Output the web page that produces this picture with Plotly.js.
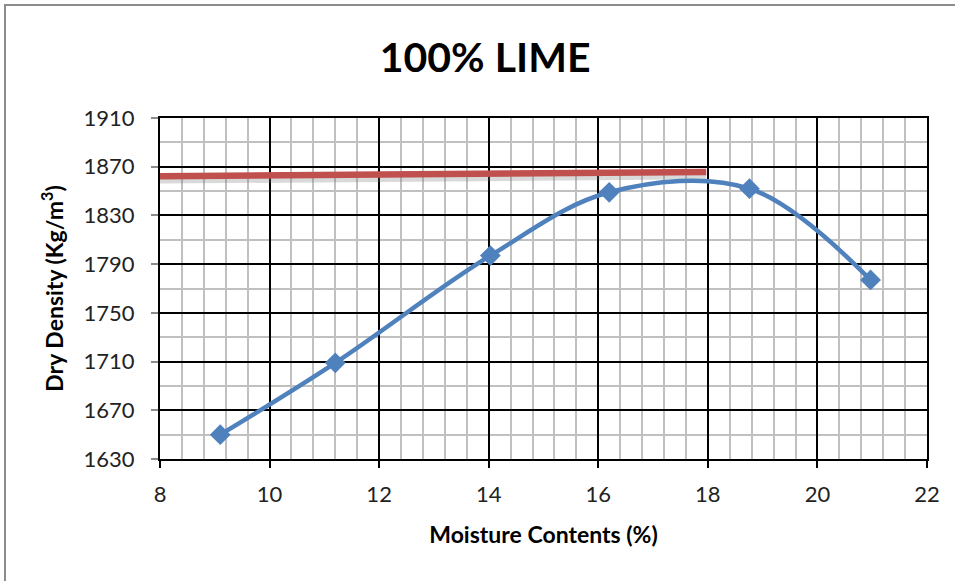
<!DOCTYPE html>
<html>
<head>
<meta charset="utf-8">
<script src="https://cdn.plot.ly/plotly-3.0.1.min.js"></script>
<style>
html,body{margin:0;padding:0;background:#fff;}
#wrap{position:relative;width:955px;height:581px;overflow:hidden;}
#frame{position:absolute;left:4px;top:4px;width:960px;height:600px;border:2px solid #8c8c8c;box-sizing:border-box;pointer-events:none;z-index:5;}
#chart{position:absolute;left:0;top:0;width:955px;height:581px;}
</style>
</head>
<body>
<div id="wrap"><div id="chart"></div><div id="frame"></div></div>
<script>
// Data
const moisture = [9.10, 11.20, 14.03, 16.20, 18.76, 20.97];
const dryDensity = [1650, 1709, 1797, 1849, 1852, 1777];
const mddLineX = [8, 17.97];
const mddLineY = [1862.2, 1865.7];
const xTicks = [8, 10, 12, 14, 16, 18, 20, 22];
const yTicks = [1630, 1670, 1710, 1750, 1790, 1830, 1870, 1910];

const FONT = 'Lato, "Open Sans", sans-serif';

const traces = [
  {
    x: mddLineX,
    y: mddLineY.map(v => v - 2.8),
    mode: 'lines',
    line: {color: 'rgba(120,120,120,0.28)', width: 8},
    hoverinfo: 'skip',
    showlegend: false
  },
  {
    x: mddLineX,
    y: mddLineY,
    mode: 'lines',
    line: {color: '#C0504D', width: 6.5},
    showlegend: false
  },
  {
    x: moisture,
    y: dryDensity,
    mode: 'lines+markers',
    line: {color: '#4F81BD', width: 4.5, shape: 'spline', smoothing: 1},
    marker: {symbol: 'diamond', size: 16, color: '#4F81BD'},
    showlegend: false
  }
];

const layout = {
  width: 955,
  height: 581,
  paper_bgcolor: '#ffffff',
  plot_bgcolor: '#ffffff',
  margin: {l: 160, r: 28, t: 118, b: 122},
  title: {
    text: '<b>100% LIME</b>',
    font: {family: FONT, size: 41, color: '#000'},
    x: 0.508, xanchor: 'center',
    y: 0.9, yanchor: 'middle'
  },
  xaxis: {
    range: [8, 22],
    tickvals: xTicks,
    ticktext: xTicks.map(String),
    showgrid: true,
    gridcolor: '#000000',
    gridwidth: 2,
    minor: {dtick: 0.4, tick0: 8, showgrid: true, gridcolor: '#c0c0c0', gridwidth: 2},
    showline: true, linecolor: '#000', linewidth: 2, mirror: true,
    ticks: 'outside', ticklen: 7, tickwidth: 2, tickcolor: '#000',
    ticklabelstandoff: 8,
    zeroline: false,
    tickfont: {family: FONT, size: 22, color: '#222'},
    title: {text: '<b>Moisture Contents (%)</b>', font: {family: FONT, size: 23, color: '#000'}, standoff: 20}
  },
  yaxis: {
    range: [1630, 1910],
    tickvals: yTicks,
    ticktext: yTicks.map(String),
    showgrid: true,
    gridcolor: '#000000',
    gridwidth: 2,
    minor: {dtick: 20, tick0: 1630, showgrid: true, gridcolor: '#c0c0c0', gridwidth: 2},
    showline: true, linecolor: '#000', linewidth: 2, mirror: true,
    ticks: 'outside', ticklen: 7, tickwidth: 2, tickcolor: '#8c8c8c',
    ticklabelstandoff: 12,
    zeroline: false,
    tickfont: {family: FONT, size: 22, color: '#222'},
    title: {text: '<b>Dry Density (Kg/m<sup>3</sup>)</b>', font: {family: FONT, size: 23, color: '#000'}, standoff: 14}
  }
};

Plotly.newPlot('chart', traces, layout, {staticPlot: true, displayModeBar: false});
</script>
</body>
</html>
